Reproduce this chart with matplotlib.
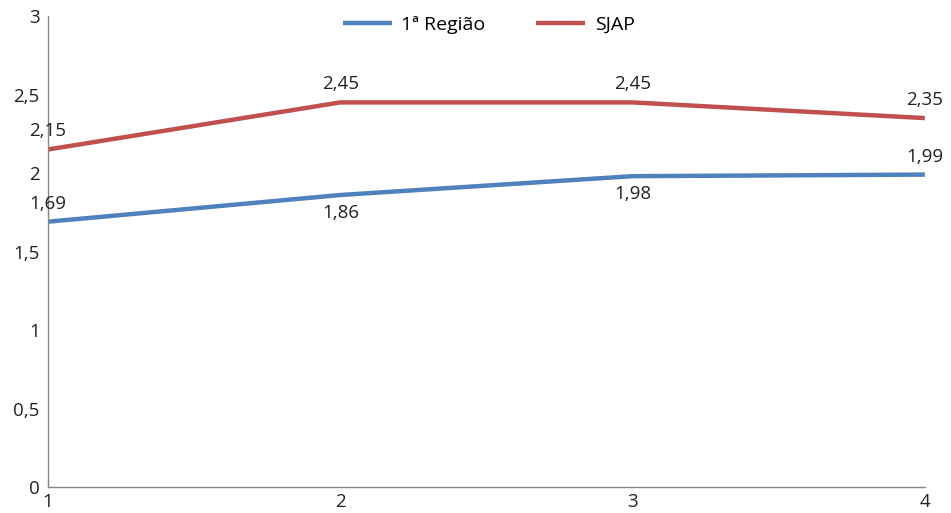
import matplotlib.pyplot as plt

x = [1, 2, 3, 4]
regiao = [1.69, 1.86, 1.98, 1.99]
sjap = [2.15, 2.45, 2.45, 2.35]
yticks = [0, 0.5, 1, 1.5, 2, 2.5, 3]

blue = '#4F81BD'
red = '#C0504D'

plt.rcParams['font.family'] = ['Open Sans', 'DejaVu Sans']

fig = plt.figure(figsize=(9.51, 5.13), dpi=100)
ax = fig.add_axes([0.0505, 0.0507, 0.922, 0.918])

l1, = ax.plot(x, regiao, color=blue, lw=3.2, label='1ª Região', solid_capstyle='butt')
l2, = ax.plot(x, sjap, color=red, lw=3.2, label='SJAP', solid_capstyle='butt')


def fmt(v):
    return ('%g' % v).replace('.', ',')


# labels: red all above, blue above at ends, below in the middle
for xi, v in zip(x, sjap):
    ax.annotate(fmt(v), (xi, v), xytext=(0, 13), textcoords='offset points',
                ha='center', va='center', fontsize=13.5, color='#222222')
for i, (xi, v) in enumerate(zip(x, regiao)):
    dy = 13 if i in (0, 3) else -13
    ax.annotate(fmt(v), (xi, v), xytext=(0, dy), textcoords='offset points',
                ha='center', va='center', fontsize=13.5, color='#222222')

ax.set_xlim(1, 4)
ax.set_ylim(0, 3)
ax.set_xticks(x)
ax.set_yticks(yticks)
ax.set_yticklabels([fmt(v) for v in yticks])
ax.tick_params(length=0, labelsize=13.5, labelcolor='#222222')
ax.tick_params(axis='y', pad=6)
ax.tick_params(axis='x', pad=4)
for s in ['top', 'right']:
    ax.spines[s].set_visible(False)
for s in ['left', 'bottom']:
    ax.spines[s].set_color('#868686')
    ax.spines[s].set_linewidth(1)

fig.legend(handles=[l1, l2], loc='center', bbox_to_anchor=(0.514, 1 - 25 / 513),
           ncol=2, frameon=False, fontsize=14, handlelength=2.5,
           handletextpad=0.5, columnspacing=2.6)

plt.savefig('out.png', dpi=100)
